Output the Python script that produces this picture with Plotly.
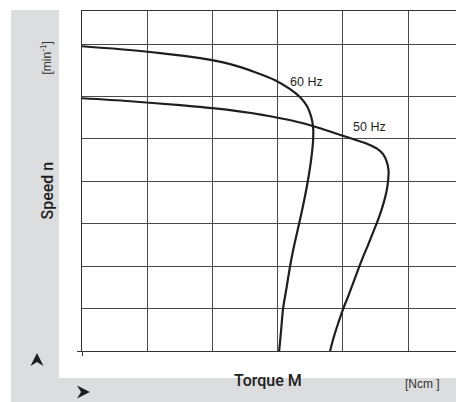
import plotly.graph_objects as go

# ---- data (chart units: x = torque grid units, y = speed grid units) ----
torque_60hz = [0.0, 0.586, 1.199, 1.812, 2.271, 2.654, 2.96, 3.190, 3.343, 3.450, 3.511,
               3.542, 3.542, 3.511, 3.450, 3.373, 3.236, 3.190, 3.129, 3.083, 3.052, 3.022]
speed_60hz = [7.17, 7.10, 7.01, 6.89, 6.75, 6.56, 6.37, 6.16, 5.97, 5.76, 5.52,
              5.27, 4.96, 4.49, 3.90, 3.31, 2.37, 2.0, 1.43, 1.01, 0.49, 0.0]

torque_50hz = [0.0, 0.740, 1.505, 2.271, 2.884, 3.419, 3.879, 4.185, 4.384, 4.522, 4.614,
               4.668, 4.698, 4.691, 4.668, 4.622, 4.553, 4.469, 4.384, 4.300, 4.224,
               4.147, 4.075, 4.002, 3.933, 3.864, 3.802]
speed_50hz = [5.947, 5.877, 5.783, 5.666, 5.524, 5.348, 5.125, 4.972, 4.866, 4.760, 4.631,
              4.467, 4.255, 3.996, 3.761, 3.479, 3.150, 2.821, 2.492, 2.186, 1.881,
              1.563, 1.269, 0.987, 0.682, 0.353, 0.0]

series_labels = ["60 Hz", "50 Hz"]
label_pos = [(3.44, 6.32), (4.40, 5.27)]

x_grid = [1, 2, 3, 4, 5]
y_grid = [1, 2, 3, 4, 5, 6, 7.22]
x_range = [0, 5.855]
y_range = [0, 8]

y_title = "Speed n"
y_unit = "[min<sup>-1</sup>]"
x_title = "Torque M"
x_unit = "[Ncm ]"

OFF = 8                      # page body margin
W, H = 464 - OFF, 402 - OFF
L, R, T, B = 82 - OFF, 0, 11 - OFF, 51

def px(xp):                  # window pixel -> paper
    return (xp - OFF - L) / (W - L - R)

def py(yp):
    return (H - B - (yp - OFF)) / (H - T - B)

INK = "#1e1e1e"
GRID = "#4a4a4a"
PANEL = "#dcdddf"

fig = go.Figure()
for xs, ys in [(torque_60hz, speed_60hz), (torque_50hz, speed_50hz)]:
    fig.add_trace(go.Scatter(x=xs, y=ys, mode="lines",
                             line=dict(color=INK, width=2.2, shape="spline", smoothing=1.0),
                             hoverinfo="skip", showlegend=False))

annotations = []
for lab, (ax, ay) in zip(series_labels, label_pos):
    annotations.append(dict(x=ax, y=ay, xref="x", yref="y", text=lab, showarrow=False,
                            font=dict(family="Liberation Sans, Arial, sans-serif", size=12.5, color=INK)))

cond = "Roboto, Liberation Sans, sans-serif"
annotations += [
    dict(x=px(35), y=py(191), xref="paper", yref="paper", text=y_title, textangle=-90,
         showarrow=False, font=dict(family=cond, size=16, color=INK, weight=500)),
    dict(x=px(35), y=py(40), xref="paper", yref="paper", text=y_unit, textangle=-90,
         showarrow=False, font=dict(family="Liberation Sans, Arial, sans-serif", size=12, color="#333")),
    dict(x=px(268), y=py(392), xref="paper", yref="paper", text=x_title,
         showarrow=False, font=dict(family=cond, size=16, color=INK, weight=500)),
    dict(x=px(442), y=py(393), xref="paper", yref="paper", text=x_unit,
         showarrow=False, font=dict(family="Liberation Sans, Arial, sans-serif", size=12, color="#333")),
]

def arrow_path(pts):
    return "M " + " L ".join(f"{px(a):.5f},{py(b):.5f}" for a, b in pts) + " Z"

shapes = [
    dict(type="rect", xref="paper", yref="paper", x0=px(11), x1=px(464), y0=py(10), y1=py(402),
         fillcolor=PANEL, line=dict(width=0), layer="below"),
    dict(type="rect", xref="paper", yref="paper", x0=px(59), x1=px(464), y0=py(0), y1=py(378),
         fillcolor="white", line=dict(width=0), layer="below"),
    # up arrowhead
    dict(type="path", xref="paper", yref="paper",
         path=arrow_path([(37, 353), (43.5, 366), (37, 362), (30.5, 366)]),
         fillcolor=INK, line=dict(width=0)),
    # right arrowhead
    dict(type="path", xref="paper", yref="paper",
         path=arrow_path([(90, 392), (77, 398.5), (81, 392), (77, 385.5)]),
         fillcolor=INK, line=dict(width=0)),
]

axis_common = dict(showticklabels=False, zeroline=False, showgrid=False,
                   showline=True, linecolor="#333", linewidth=1.2,
                   ticks="outside", ticklen=4, tickcolor="#333", tickwidth=1.2)

fig.update_layout(
    width=W, height=H,
    margin=dict(l=L, r=R, t=T, b=B, pad=0),
    paper_bgcolor="white", plot_bgcolor="white",
    xaxis=dict(range=x_range, tickvals=[0], mirror=True, **axis_common,
               minor=dict(tickvals=x_grid, showgrid=True, gridcolor=GRID, gridwidth=1, ticks="")),
    yaxis=dict(range=y_range, tickvals=[0], **axis_common,
               minor=dict(tickvals=y_grid, showgrid=True, gridcolor=GRID, gridwidth=1, ticks="")),
    annotations=annotations,
    shapes=shapes,
)

fig.write_html("out.html")
